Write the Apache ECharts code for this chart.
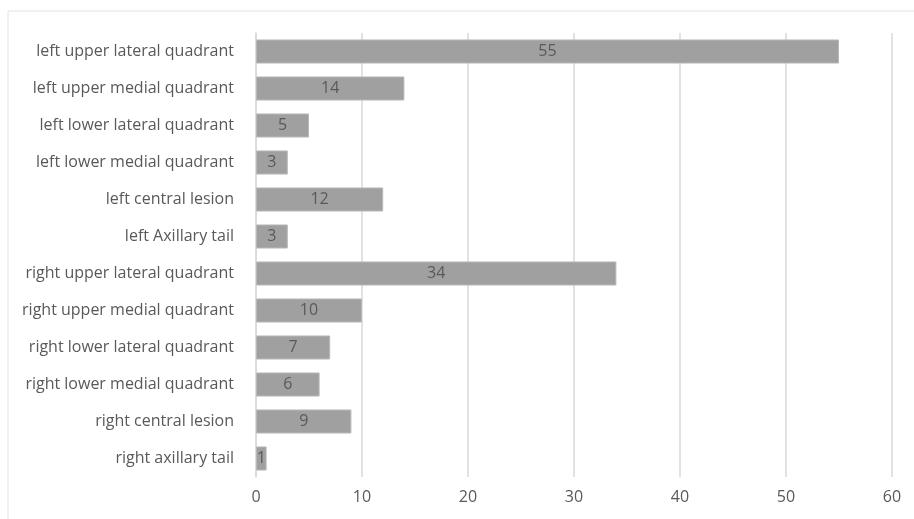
<!DOCTYPE html>
<html><head><meta charset="utf-8">
<script src="https://cdn.jsdelivr.net/npm/echarts@6/dist/echarts.min.js"></script>
<style>html,body{margin:0;padding:0;background:#fff}#c{width:914px;height:519px}</style>
</head><body><div id="c"></div>
<script>
const categories = ["left upper lateral quadrant","left upper medial quadrant","left lower lateral quadrant","left lower medial quadrant","left central lesion","left Axillary tail","right upper lateral quadrant","right upper medial quadrant","right lower lateral quadrant","right lower medial quadrant","right central lesion","right axillary tail"];
const values = [55,14,5,3,12,3,34,10,7,6,9,1];
const xTicks = [0,10,20,30,40,50,60];

const chart = echarts.init(document.getElementById('c'));
chart.setOption({
  animation:false,
  backgroundColor:'#fff',
  graphic:[
    {type:'line',shape:{x1:8,y1:11,x2:914,y2:11},style:{stroke:'#e2e2e2',lineWidth:1}},
    {type:'line',shape:{x1:8,y1:11,x2:8,y2:519},style:{stroke:'#e2e2e2',lineWidth:1}}
  ],
  grid:{left:256,right:22,top:33,bottom:42},
  xAxis:{type:'value',min:xTicks[0],max:xTicks[xTicks.length-1],interval:10,
    axisLine:{show:false},axisTick:{show:false},
    splitLine:{lineStyle:{color:'#d9d9d9',width:1.5}},
    axisLabel:{color:'#595959',fontFamily:'Open Sans',fontSize:16,margin:12}},
  yAxis:{type:'category',data:categories,inverse:true,
    axisLine:{show:true,lineStyle:{color:'#d9d9d9',width:1.5}},axisTick:{show:false},
    axisLabel:{color:'#595959',fontFamily:'Open Sans',fontSize:16,margin:22}},
  series:[{type:'bar',data:values,barCategoryGap:'35%',
    itemStyle:{color:'#a0a0a0',borderColor:'#b8b8b8',borderWidth:1},
    label:{show:true,position:'inside',color:'#595959',fontFamily:'Open Sans',fontSize:16}}]
});
</script></body></html>
